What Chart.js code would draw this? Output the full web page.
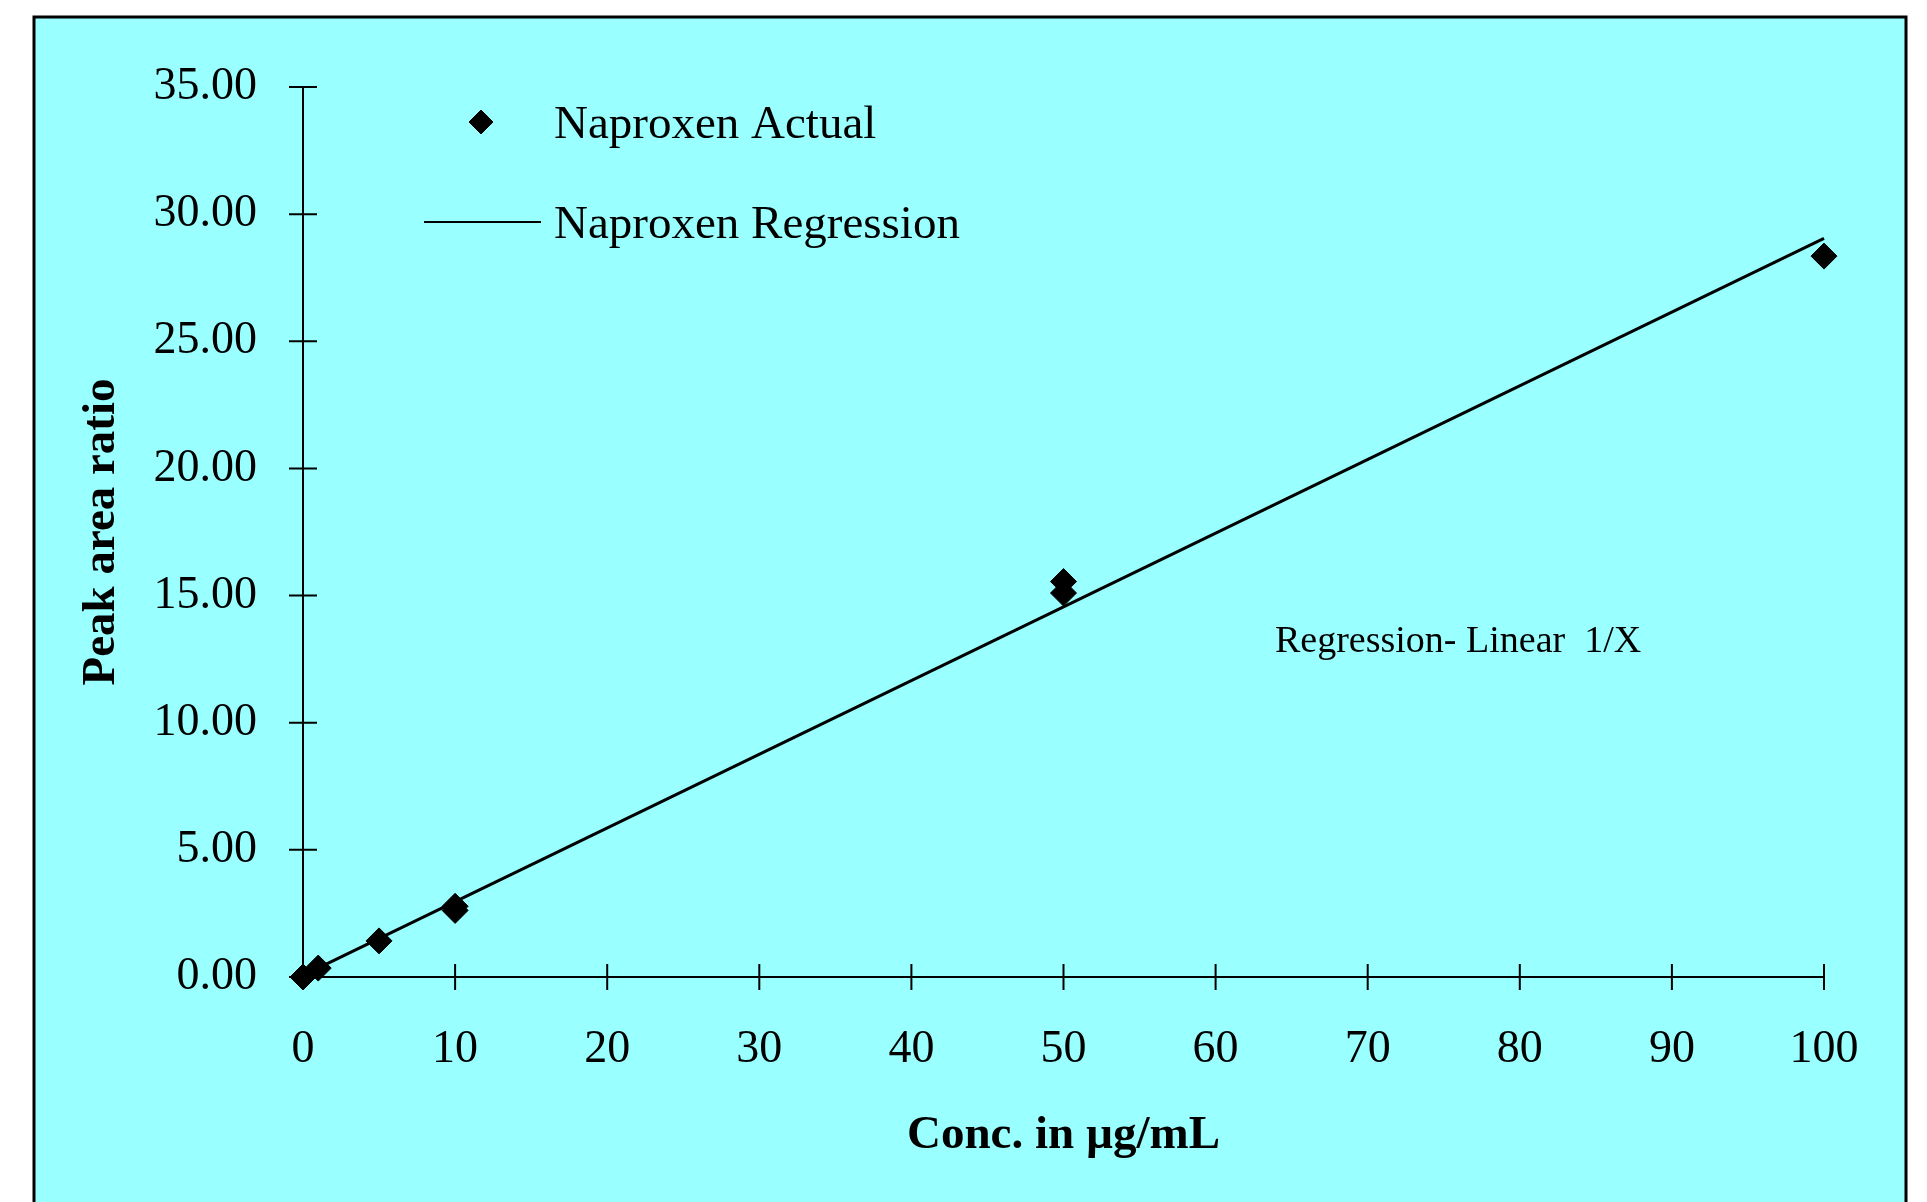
<!DOCTYPE html>
<html>
<head>
<meta charset="utf-8">
<script src="https://cdn.jsdelivr.net/npm/chart.js@4.4.1/dist/chart.umd.min.js"></script>
<style>
  html, body { margin: 0; padding: 0; background: #fff; }
  canvas { display: block; }
</style>
</head>
<body>
<canvas id="chart" width="1927" height="1202"></canvas>
<script>
const actualConc = [0, 1, 5, 10, 10, 50, 50, 100];
const actualRatio = [0.0, 0.35, 1.42, 2.62, 2.78, 15.10, 15.55, 28.35];

// regression line (linear, 1/X weighting) end points
const regConc = [0, 100];
const regRatio = [0.06, 29.05];

const xTicks = [0, 10, 20, 30, 40, 50, 60, 70, 80, 90, 100];
const yTicks = [0, 5, 10, 15, 20, 25, 30, 35];

const SERIF = "'Liberation Serif', 'Times New Roman', serif";

const toPoints = (xs, ys) => xs.map((x, i) => ({ x, y: ys[i] }));

// cyan panel with black frame behind everything
const framePlugin = {
  id: "frame",
  beforeDraw(chart) {
    const ctx = chart.ctx;
    ctx.save();
    ctx.fillStyle = "#ffffff";
    ctx.fillRect(0, 0, chart.width, chart.height);
    ctx.fillStyle = "#99ffff";
    ctx.fillRect(34, 17, 1872, chart.height);
    ctx.strokeStyle = "#000";
    ctx.lineWidth = 3;
    ctx.strokeRect(34, 17, 1872, chart.height + 10);
    ctx.restore();
  }
};

// tick marks that cross the axis lines, like the old Excel style
const crossTicks = {
  id: "crossTicks",
  afterDraw(chart) {
    const ctx = chart.ctx;
    const xs = chart.scales.x, ys = chart.scales.y;
    const x0 = xs.getPixelForValue(0), y0 = ys.getPixelForValue(0);
    ctx.save();
    ctx.strokeStyle = "#000";
    ctx.lineWidth = 2;
    ctx.beginPath();
    xTicks.forEach(v => {
      const px = xs.getPixelForValue(v);
      ctx.moveTo(px, y0 - 13);
      ctx.lineTo(px, y0 + 13);
    });
    yTicks.forEach(v => {
      const py = ys.getPixelForValue(v);
      ctx.moveTo(x0 - 14, py);
      ctx.lineTo(x0 + 14, py);
    });
    ctx.stroke();
    ctx.restore();
  }
};

// legend in the top-left of the plot + regression note
const customLegend = {
  id: "customLegend",
  afterDraw(chart) {
    const ctx = chart.ctx;
    const [pts, reg] = chart.data.datasets;
    ctx.save();
    ctx.fillStyle = "#000";
    ctx.strokeStyle = "#000";
    ctx.font = `47px ${SERIF}`;
    ctx.textBaseline = "middle";
    ctx.textAlign = "left";

    // diamond entry
    Chart.helpers.drawPoint(ctx, { pointStyle: "rectRot", radius: 12, borderWidth: 1 }, 481, 122);
    ctx.fill();
    ctx.fillText(pts.label, 554, 126);

    // line entry
    ctx.lineWidth = 2;
    ctx.beginPath();
    ctx.moveTo(424, 222);
    ctx.lineTo(541, 222);
    ctx.stroke();
    ctx.fillText(reg.label, 554, 226);

    ctx.font = `38px ${SERIF}`;
    ctx.fillText("Regression- Linear  1/X", 1275, 642);
    ctx.restore();
  }
};

new Chart(document.getElementById("chart"), {
  type: "scatter",
  data: {
    datasets: [
      {
        label: "Naproxen Actual",
        data: toPoints(actualConc, actualRatio),
        pointStyle: "rectRot",
        pointRadius: 13,
        pointBackgroundColor: "#000",
        pointBorderColor: "#000",
        pointBorderWidth: 1,
        clip: false,
        order: 1
      },
      {
        label: "Naproxen Regression",
        type: "line",
        data: toPoints(regConc, regRatio),
        borderColor: "#000",
        borderWidth: 3,
        pointRadius: 0,
        fill: false,
        clip: false,
        order: 2
      }
    ]
  },
  options: {
    responsive: false,
    animation: false,
    layout: { padding: { left: 0, right: 103, top: 87, bottom: 0 } },
    plugins: {
      legend: { display: false },
      tooltip: { enabled: false }
    },
    scales: {
      x: {
        type: "linear",
        min: 0,
        max: 100,
        afterFit: s => { s.height = 225; },
        afterBuildTicks: s => { s.ticks = xTicks.map(v => ({ value: v })); },
        grid: { display: false, drawTicks: false },
        border: { display: true, color: "#000", width: 2 },
        ticks: {
          color: "#000",
          padding: 45,
          maxRotation: 0,
          font: { family: SERIF, size: 46 },
          callback: v => String(v)
        },
        title: {
          display: true,
          text: "Conc. in µg/mL",
          color: "#000",
          padding: { top: 0, bottom: 38 },
          font: { family: SERIF, size: 47, weight: "bold" }
        }
      },
      y: {
        type: "linear",
        min: 0,
        max: 35,
        afterFit: s => { s.width = 303; },
        afterBuildTicks: s => { s.ticks = yTicks.map(v => ({ value: v })); },
        grid: { display: false, drawTicks: false },
        border: { display: true, color: "#000", width: 2 },
        ticks: {
          color: "#000",
          padding: 46,
          font: { family: SERIF, size: 46 },
          callback: v => Number(v).toFixed(2)
        },
        title: {
          display: true,
          text: "Peak area ratio",
          color: "#000",
          padding: { top: 74, bottom: 0 },
          font: { family: SERIF, size: 47, weight: "bold" }
        }
      }
    }
  },
  plugins: [framePlugin, crossTicks, customLegend]
});
</script>
</body>
</html>
